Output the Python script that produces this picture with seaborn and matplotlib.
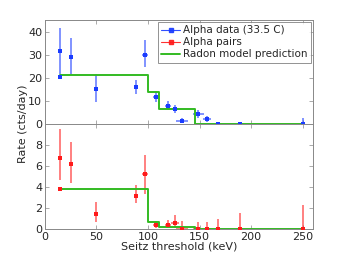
import numpy as np
import matplotlib
matplotlib.use("Agg")
import matplotlib.pyplot as plt
from matplotlib.lines import Line2D
import seaborn as sns

# Seitz threshold positions (keV), shared by both panels
thresh = [15, 15, 25.5, 49.5, 88.3, 97.5, 107.5, 119.5, 126, 133, 149, 157, 167.5, 189, 250]
thresh_err = [0, 0, 0, 0, 2, 3, 3, 3, 4, 5.5, 5, 4, 0, 0, 0]

# alpha data (33.5 C)
alpha_rate = [20.6, 31.6, 29.2, 15.3, 15.9, 30.0, 11.7, 7.9, 6.4, 1.3, 4.2, 2.0, 0, 0, 0]
alpha_lo = [0, 9.8, 7.4, 5.7, 2.7, 5.4, 2.2, 1.8, 1.6, 1.0, 1.5, 1.2, 0, 0, 0]
alpha_hi = [0, 9.9, 8.0, 6.5, 3.0, 6.3, 2.6, 2.0, 1.8, 1.2, 1.7, 1.4, 0.6, 0.8, 2.6]

# alpha pairs
pair_rate = [3.8, 6.8, 6.2, 1.45, 3.2, 5.25, 0.38, 0.4, 0.55, 0, 0, 0, 0, 0, 0]
pair_lo = [0, 2.1, 1.8, 0.8, 0.7, 1.95, 0.3, 0.3, 0.4, 0, 0, 0, 0, 0, 0]
pair_hi = [0, 2.7, 2.1, 1.15, 1.0, 1.8, 0.4, 0.5, 0.8, 0.8, 0.7, 0.7, 0.93, 1.5, 2.3]

# radon model prediction (step)
model_x = [15, 100.5, 111, 146, 250]
model_alpha = [21.2, 13.9, 6.7, 0, 0]
model_pair = [3.85, 0.72, 0.18, 0, 0]

sns.set_style("ticks")
plt.rcParams['font.family'] = ['DejaVu Sans']

blue = '#1a3cff'
red = '#ff1a1a'
green = '#33bb22'

fig = plt.figure(figsize=(3.45, 2.58), dpi=100)
ax1 = fig.add_axes([0.130, 0.519, 0.777, 0.403])
ax2 = fig.add_axes([0.130, 0.112, 0.777, 0.407], sharex=ax1)

for ax, rate, lo, hi, model, col in [(ax1, alpha_rate, alpha_lo, alpha_hi, model_alpha, blue),
                                      (ax2, pair_rate, pair_lo, pair_hi, model_pair, red)]:
    ax.errorbar(thresh, rate, yerr=[lo, hi], xerr=thresh_err, fmt='none',
                ecolor=col, elinewidth=1.1, alpha=0.7, zorder=2)
    sns.lineplot(x=model_x, y=model, ax=ax, drawstyle='steps-post',
                 color=green, linewidth=1.4, zorder=3)
    sns.scatterplot(x=thresh, y=rate, ax=ax, color=col, marker='s', s=10,
                    linewidth=0, zorder=4)
    ax.tick_params(direction='in', top=True, right=True, labelsize=8,
                   length=3, width=0.5, color='#888888', pad=2)
    for s in ax.spines.values():
        s.set_color('#888888')
        s.set_linewidth(0.7)

ax1.set_xlim(0, 260)
ax1.set_ylim(0, 45)
ax1.set_yticks([0, 10, 20, 30, 40])
ax1.set_xticks([0, 50, 100, 150, 200, 250])
ax1.tick_params(labelbottom=False)
ax2.set_ylim(0, 10)
ax2.set_yticks([0, 2, 4, 6, 8])

ax2.set_xlabel("Seitz threshold (keV)", fontsize=8, labelpad=0)
fig.text(0.068, 0.52, "Rate (cts/day)", rotation=90, va='center', ha='center', fontsize=8)

handles = [Line2D([], [], color=blue, marker='s', markersize=2.5, linewidth=0.8, alpha=0.9),
           Line2D([], [], color=red, marker='s', markersize=2.5, linewidth=0.8, alpha=0.9),
           Line2D([], [], color=green, linewidth=1.4)]
labels = ['Alpha data (33.5 C)', 'Alpha pairs', 'Radon model prediction']
leg = ax1.legend(handles, labels, loc='upper right', fontsize=7.5, frameon=True,
                 fancybox=False, borderpad=0.3, labelspacing=0.2, handlelength=1.8,
                 handletextpad=0.3, borderaxespad=0.2)
leg.get_frame().set_edgecolor('#777777')
leg.get_frame().set_linewidth(0.7)

plt.savefig("out.png", dpi=100)
